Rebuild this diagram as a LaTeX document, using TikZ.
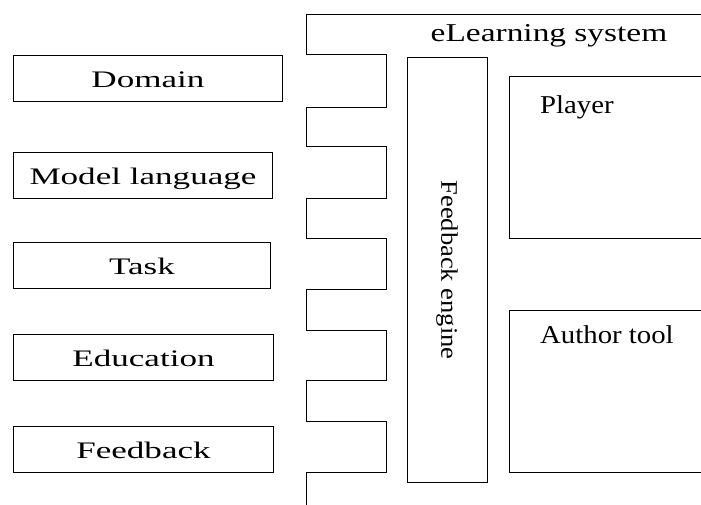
\documentclass[tikz,border=0pt]{standalone}
\usepackage{fontspec}
\setmainfont{Liberation Serif}
\newfontfamily\srcfont[FakeStretch=1.48]{Liberation Serif}
\newfontfamily\titlefont[FakeStretch=1.3]{Liberation Serif}
\newfontfamily\partfont[FakeStretch=1.12]{Liberation Serif}
\usetikzlibrary{positioning}
\tikzset{
    %Define style for the boxes on the left
    srcbox/.style={
      rectangle,
      draw=black, line width=1pt,
      minimum height=46pt,
      text height=18pt, text depth=0pt,
      font=\srcfont\fontsize{23.7}{28}\selectfont},
    %Define style for the boxes inside the system
    partbox/.style={
      rectangle,
      draw=black, line width=1pt,
      inner sep=0pt},
    % Define style for plain labels
    parttext/.style={
      inner sep=0pt,
      font=\partfont\fontsize{25.7}{30}\selectfont},
    % Define style for the system outline
    frame/.style={
      draw=black, line width=1pt}
}

\begin{document}
\begin{tikzpicture}[x=1pt, y=-1pt]
    \useasboundingbox (0,0) rectangle (701,504);
    \clip (0,0) rectangle (701,504);
    % system outline with its teeth
    \draw[frame] (720,14) -- (306,14) -- (306,54)
      \foreach \ytop/\ybot in {54/107,146/198,238/289,330/380,421/472} {
        -- (306,\ytop) -- (386,\ytop) -- (386,\ybot) -- (306,\ybot)}
      -- (306,520);
    \node[parttext, anchor=base, font=\titlefont\fontsize{25.7}{30}\selectfont] (system) at (549,41) {eLearning system};
    \node[partbox, rotate=-90, minimum width=425pt, minimum height=80pt,
      font=\partfont\fontsize{23.7}{28}\selectfont] (engine) at (447,270) {Feedback engine};
    \node[partbox, anchor=north west, minimum width=220pt, minimum height=162pt] (player) at (509,76) {};
    \node[parttext, anchor=base west] (playertext) at (540,113) {Player};
    \node[partbox, anchor=north west, minimum width=220pt, minimum height=162pt] (author) at (509,310) {};
    \node[parttext, anchor=base west] (authortext) at (540,343) {Author tool};
    % boxes on the left
    \node[srcbox, minimum width=269pt, anchor=north west] (domain) at (13,55) {Domain};
    \node[srcbox, minimum width=259pt, below=50pt of domain.south west, anchor=north west] (model) {Model language};
    \node[srcbox, minimum width=257pt, below=43pt of model.south west, anchor=north west] (task) {Task};
    \node[srcbox, minimum width=260pt, below=45pt of task.south west, anchor=north west] (education) {Education};
    \node[srcbox, minimum width=260pt, below=45pt of education.south west, anchor=north west] (feedback) {Feedback};
\end{tikzpicture}
\end{document}
